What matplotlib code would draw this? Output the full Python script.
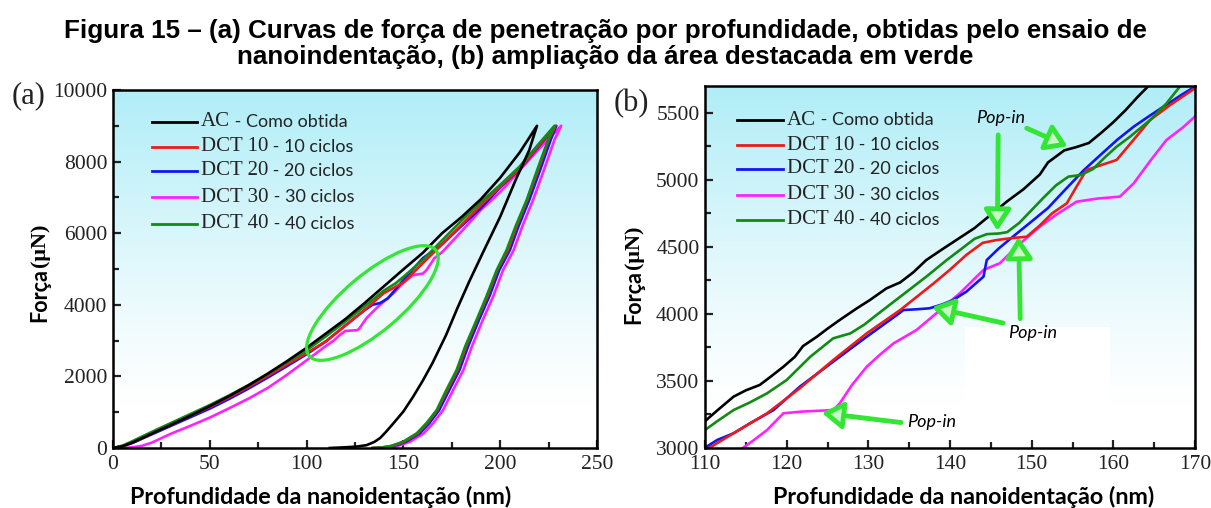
import numpy as np
import matplotlib
matplotlib.use("Agg")
from matplotlib import pyplot as plt
from matplotlib.patches import Ellipse, Rectangle
from matplotlib.transforms import ScaledTranslation
from matplotlib.ticker import MultipleLocator

# Panel (a): full loading + unloading curves (depth nm, force uN)
ac_a_x = [0, 5, 10, 20, 30, 40, 50, 60, 70, 80, 90, 100, 110, 120, 130, 140, 150, 160, 170, 180, 190, 200, 210, 219,
          215, 208, 200, 191, 184, 178, 172, 165, 160, 155, 150, 145, 141, 138, 135, 131, 126, 120, 112]
ac_a_y = [0, 50, 150, 400, 650, 900, 1170, 1450, 1750, 2080, 2430, 2800, 3200, 3600, 4050, 4520, 4990, 5450, 6000, 6450, 6950, 7550, 8250, 9000,
          8320, 7490, 6460, 5450, 4650, 3920, 3150, 2370, 1880, 1430, 1020, 700, 450, 280, 170, 80, 40, 20, 0]
dct10_a_x = [0, 5, 10, 20, 30, 40, 50, 60, 70, 80, 90, 100, 110, 120, 130, 140, 150, 160, 170, 180, 190, 200, 210, 220, 228.5,
             225, 219.5, 214, 208.5, 204, 198.5, 193.5, 188, 182.5, 178, 172.5, 167.5, 162.5, 157.5, 153.5, 150.5, 146.5, 143.5, 138.5, 134]
dct10_a_y = [0, 50, 150, 400, 650, 900, 1150, 1420, 1710, 2020, 2340, 2650, 2980, 3420, 3860, 4330, 4620, 5160, 5690, 6230, 6780, 7300, 7800, 8450, 9000,
             8600, 7750, 6930, 6200, 5530, 4970, 4250, 3575, 2850, 2180, 1600, 1060, 700, 410, 280, 180, 100, 50, 10, 0]
dct20_a_x = [0, 5, 10, 20, 30, 40, 50, 60, 70, 80, 90, 100, 110, 120, 130, 134, 138, 142, 150, 160, 170, 180, 190, 200, 210, 220, 229,
             226, 220.5, 215, 209.5, 205, 199.5, 194.5, 189, 183.5, 179, 173.5, 168.5, 163.5, 158.5, 154.5, 151.5, 147.5, 144.5, 139.5, 135]
dct20_a_y = [0, 50, 140, 380, 620, 860, 1100, 1370, 1660, 1970, 2290, 2620, 2980, 3420, 3850, 4000, 4050, 4180, 4690, 5300, 5690, 6200, 6700, 7280, 7780, 8430, 9000,
             8600, 7750, 6930, 6200, 5530, 4970, 4250, 3575, 2850, 2180, 1600, 1060, 700, 410, 280, 180, 100, 50, 10, 0]
dct30_a_x = [0, 5, 10, 15, 20, 30, 40, 50, 60, 70, 80, 90, 100, 110, 114, 117, 120, 126, 127, 131, 135, 140, 145, 150, 155, 160, 162, 166, 170,
             180, 190, 200, 210, 220, 231.5,
             228, 222.5, 217, 211.5, 207, 201.5, 196.5, 191, 185.5, 181, 175.5, 170.5, 165.5, 160.5, 156.5, 153.5, 149.5, 146.5, 141.5, 137]
dct30_a_y = [0, 0, 20, 60, 150, 400, 620, 850, 1110, 1380, 1680, 2050, 2450, 2850, 3000, 3150, 3270, 3290, 3320, 3630, 3850, 4100, 4330, 4620, 4830, 4870, 4970, 5300, 5470,
             6050, 6650, 7150, 7750, 8350, 9000,
             8600, 7750, 6930, 6200, 5530, 4970, 4250, 3575, 2850, 2180, 1600, 1060, 700, 410, 280, 180, 100, 50, 10, 0]
dct40_a_x = [0, 5, 10, 20, 30, 40, 50, 60, 70, 80, 90, 100, 110, 120, 130, 140, 146, 150, 160, 170, 180, 190, 200, 210, 220, 228,
             224.7, 219, 213.7, 208, 203.3, 198.2, 193, 187.8, 182, 177.5, 172, 167.2, 162, 156.9, 153, 150, 146, 143, 138, 134]
dct40_a_y = [0, 70, 190, 450, 700, 950, 1200, 1470, 1760, 2070, 2400, 2730, 3120, 3530, 3960, 4400, 4600, 4780, 5250, 5800, 6350, 6870, 7350, 7860, 8500, 9000,
             8600, 7750, 6930, 6200, 5530, 4970, 4250, 3575, 2850, 2180, 1600, 1060, 700, 410, 280, 180, 100, 50, 10, 0]

# Panel (b): zoom of the loading curves
ac_b_x = [110, 111.5, 113.5, 115, 116.7, 118, 119.6, 121, 122, 123.7, 125, 126.5, 128.6, 130.2, 132.2, 133.9, 135.5, 137.1, 139,
          141, 143, 145, 147, 149, 151, 152, 154, 155.5, 157, 158.5, 160, 161.5, 163, 164.3]
ac_b_y = [3200, 3280, 3383, 3430, 3470, 3530, 3606, 3680, 3760, 3830, 3890, 3955, 4042, 4104, 4190, 4235, 4310, 4402, 4480,
          4560, 4640, 4740, 4840, 4930, 5040, 5130, 5220, 5245, 5275, 5350, 5430, 5520, 5620, 5700]
dct10_b_x = [110.5, 113.5, 117.6, 121.6, 125.7, 129.8, 133.9, 138, 140, 142, 144, 145.7, 147.5, 149.4, 151, 152.5, 154.3,
             155.5, 156.7, 158.5, 160.4, 162.5, 164.5, 167, 170]
dct10_b_y = [3000, 3110, 3259, 3445, 3656, 3855, 4029, 4228, 4330, 4440, 4530, 4551, 4565, 4576, 4660, 4750, 4825,
             4950, 5073, 5110, 5148, 5300, 5446, 5560, 5683]
dct20_b_x = [110.2, 111.5, 113.5, 115.5, 118.4, 121.6, 125.7, 129.8, 133.5, 134.3, 136, 137.5, 139, 140.4, 142, 144.1, 144.5,
             146, 148.2, 150, 152, 154, 156.4, 158.5, 160.5, 162.5, 164.5, 166.5, 168.5, 170]
dct20_b_y = [3010, 3060, 3110, 3184, 3283, 3457, 3644, 3830, 3992, 4029, 4035, 4042, 4070, 4104, 4166, 4278, 4402,
             4490, 4601, 4690, 4790, 4920, 5073, 5190, 5300, 5397, 5480, 5560, 5640, 5695]
dct30_b_x = [114.3, 116, 117.6, 119.6, 122, 125.7, 126.5, 128, 129.8, 131.5, 133.1, 135.9, 138.8, 141.2, 144.1, 146.1,
             148.5, 151, 153, 155.5, 158, 160.8, 162.5, 164.5, 166.5, 168.5, 170]
dct30_b_y = [2985, 3060, 3134, 3259, 3272, 3283, 3333, 3470, 3606, 3700, 3781, 3880, 4029, 4154, 4328, 4378,
             4520, 4651, 4740, 4837, 4860, 4875, 4974, 5140, 5297, 5390, 5472]
dct40_b_x = [110, 111.5, 113.5, 115.5, 117.6, 120, 122.9, 125.7, 127.8, 129.5, 131, 133.9, 137.1, 139.6, 141.5, 143, 144.5,
             146, 147, 148.5, 150, 151.5, 153, 154.5, 156, 157.5, 159, 160.4, 162, 164.5, 166.5, 168.2]
dct40_b_y = [3134, 3200, 3283, 3340, 3408, 3507, 3681, 3818, 3855, 3920, 3992, 4128, 4278, 4402, 4490, 4560, 4595,
             4600, 4610, 4680, 4775, 4870, 4960, 5024, 5036, 5080, 5170, 5247, 5320, 5446, 5570, 5700]

legend_codes = ["AC", "DCT 10", "DCT 20", "DCT 30", "DCT 40"]
legend_desc = [" - Como obtida", " - 10 ciclos", " - 20 ciclos", " - 30 ciclos", " - 40 ciclos"]
colors = ["black", "#ee1a1a", "#1414f0", "#ff22ff", "#138a13"]

SERIF = "Liberation Serif"
SANS = "Lato"
GREEN = "#33e633"

fig = plt.figure(figsize=(12.11, 5.08), dpi=100)

fig.text(0.5, 1 - 31 / 508, "Figura 15 – (a) Curvas de força de penetração por profundidade, obtidas pelo ensaio de",
         ha="center", va="center", fontsize=18.7, fontweight="bold", family="Liberation Sans")
fig.text(0.5, 1 - 57 / 508, "nanoindentação, (b) ampliação da área destacada em verde",
         ha="center", va="center", fontsize=18.7, fontweight="bold", family="Liberation Sans")

ax_a = fig.add_axes([113 / 1211, 1 - 448 / 508, 484 / 1211, 358 / 508])
ax_b = fig.add_axes([705 / 1211, 1 - 448 / 508, 490 / 1211, 362 / 508])

# cyan-to-white background
grad = np.linspace(0, 1, 256).reshape(-1, 1)
top = np.array([0.69, 0.93, 0.97])
for ax in (ax_a, ax_b):
    img = np.ones((256, 1, 3))
    w = np.clip((grad - 0.12) / 0.88, 0, 1) ** 1.2  # row 0 = bottom
    img[:, 0, :] = (1 - w) * 1.0 + w * top
    ax.imshow(img, extent=[0, 1, 0, 1], transform=ax.transAxes, aspect="auto", origin="lower", zorder=0)

# panel (a) curves
for xs, ys, c in [(dct30_a_x, dct30_a_y, colors[3]), (dct20_a_x, dct20_a_y, colors[2]),
                  (dct10_a_x, dct10_a_y, colors[1]), (dct40_a_x, dct40_a_y, colors[4]),
                  (ac_a_x, ac_a_y, colors[0])]:
    ax_a.plot(xs, ys, color=c, lw=1.9, zorder=3)
ax_a.set_xlim(0, 250)
ax_a.set_ylim(0, 10000)
ax_a.xaxis.set_major_locator(MultipleLocator(50))
ax_a.xaxis.set_minor_locator(MultipleLocator(25))
ax_a.yaxis.set_major_locator(MultipleLocator(2000))
ax_a.yaxis.set_minor_locator(MultipleLocator(1000))

# highlighted region (ellipse drawn in pixel units)
ell = Ellipse((0, 0), 1.65, 0.57, angle=40, fill=False, ec=GREEN, lw=2.3, zorder=4,
              transform=fig.dpi_scale_trans + ScaledTranslation(134, 4050, ax_a.transData))
ax_a.add_patch(ell)

# panel (b) curves
ax_b.add_patch(Rectangle((0.531, 0.05), 0.296, 0.284, transform=ax_b.transAxes, fc="white", ec="none", zorder=1))
for xs, ys, c in [(dct30_b_x, dct30_b_y, colors[3]), (dct20_b_x, dct20_b_y, colors[2]),
                  (dct10_b_x, dct10_b_y, colors[1]), (dct40_b_x, dct40_b_y, colors[4]),
                  (ac_b_x, ac_b_y, colors[0])]:
    ax_b.plot(xs, ys, color=c, lw=1.9, zorder=3)
ax_b.set_xlim(110, 170)
ax_b.set_ylim(3000, 5700)
ax_b.xaxis.set_major_locator(MultipleLocator(10))
ax_b.xaxis.set_minor_locator(MultipleLocator(5))
ax_b.yaxis.set_major_locator(MultipleLocator(500))
ax_b.yaxis.set_minor_locator(MultipleLocator(250))

# pop-in arrows
arrow_kw = dict(arrowstyle="-|>,head_length=0.7,head_width=0.45", fc="#c8f7c8", ec=GREEN, lw=3.5,
                mutation_scale=18, shrinkA=0, shrinkB=0)
popin_tails = [(149.4, 5385), (145.9, 5335), (148.6, 3965), (146.5, 3932), (134.0, 3190)]
popin_heads = [(154.4, 5250), (145.8, 4620), (148.4, 4575), (137.8, 4050), (124.3, 3262)]
for tail, head in zip(popin_tails, popin_heads):
    ax_b.annotate("", xy=head, xytext=tail, arrowprops=arrow_kw, zorder=5)
popin_text = [(143.2, 5460), (147.1, 3855), (134.7, 3196)]
for tx, ty in popin_text:
    ax_b.text(tx, ty, "Pop-in", ha="left", va="center", fontsize=13, style="italic", family=SANS, zorder=6)

# axes style
for ax, xl, yl in [(ax_a, (0.081, 0.174), [0.911, 0.841, 0.774, 0.701, 0.626]),
                   (ax_b, (0.065, 0.159), [0.906, 0.837, 0.771, 0.699, 0.630])]:
    for s in ax.spines.values():
        s.set_linewidth(1.8)
        s.set_zorder(7)
    ax.tick_params(which="both", direction="in", top=False, right=False, width=1.6, colors="#222222")
    ax.tick_params(which="major", length=6)
    ax.tick_params(which="minor", length=4)
    ax.tick_params(axis="x", pad=5, labelsize=15.5)
    ax.tick_params(axis="y", pad=4, labelsize=15.5)
    for lab in ax.get_xticklabels() + ax.get_yticklabels():
        lab.set_family(SERIF)
    # legend drawn by hand (mixed fonts)
    for code, desc, c, y in zip(legend_codes, legend_desc, colors, yl):
        ax.plot(list(xl), [y, y], color=c, lw=2, transform=ax.transAxes, zorder=6)
        t = ax.text(xl[1] + 0.008, y, code, transform=ax.transAxes, ha="left", va="center",
                    fontsize=15, family=SERIF, color="#222222", zorder=6)
        ax.annotate(desc, xy=(1, 0.5), xycoords=t, ha="left", va="center",
                    fontsize=13, family=SANS, color="#222222", zorder=6)

# panel letters
fig.text(12 / 1211, 1 - 96 / 508, "(a)", ha="left", va="center", fontsize=22, family=SERIF, color="#222222")
fig.text(614 / 1211, 1 - 104 / 508, "(b)", ha="left", va="center", fontsize=22, family=SERIF, color="#222222")

# axis labels
for xc, ytop in [(40, 268), (634, 270)]:
    fig.text(xc / 1211, 1 - ytop / 508, "Força", rotation=90, ha="center", va="top",
             fontsize=15.5, fontweight="bold", family=SANS)
    fig.text(xc / 1211, 1 - (ytop - 1) / 508, "(μN)", rotation=90, ha="center", va="bottom",
             fontsize=16, fontweight="bold", family=SERIF)
for xc in (321, 964):
    fig.text(xc / 1211, 1 - 497 / 508, "Profundidade da nanoidentação (nm)", ha="center", va="center",
             fontsize=16.8, fontweight="bold", family=SANS)

plt.savefig("out.png", dpi=100)
